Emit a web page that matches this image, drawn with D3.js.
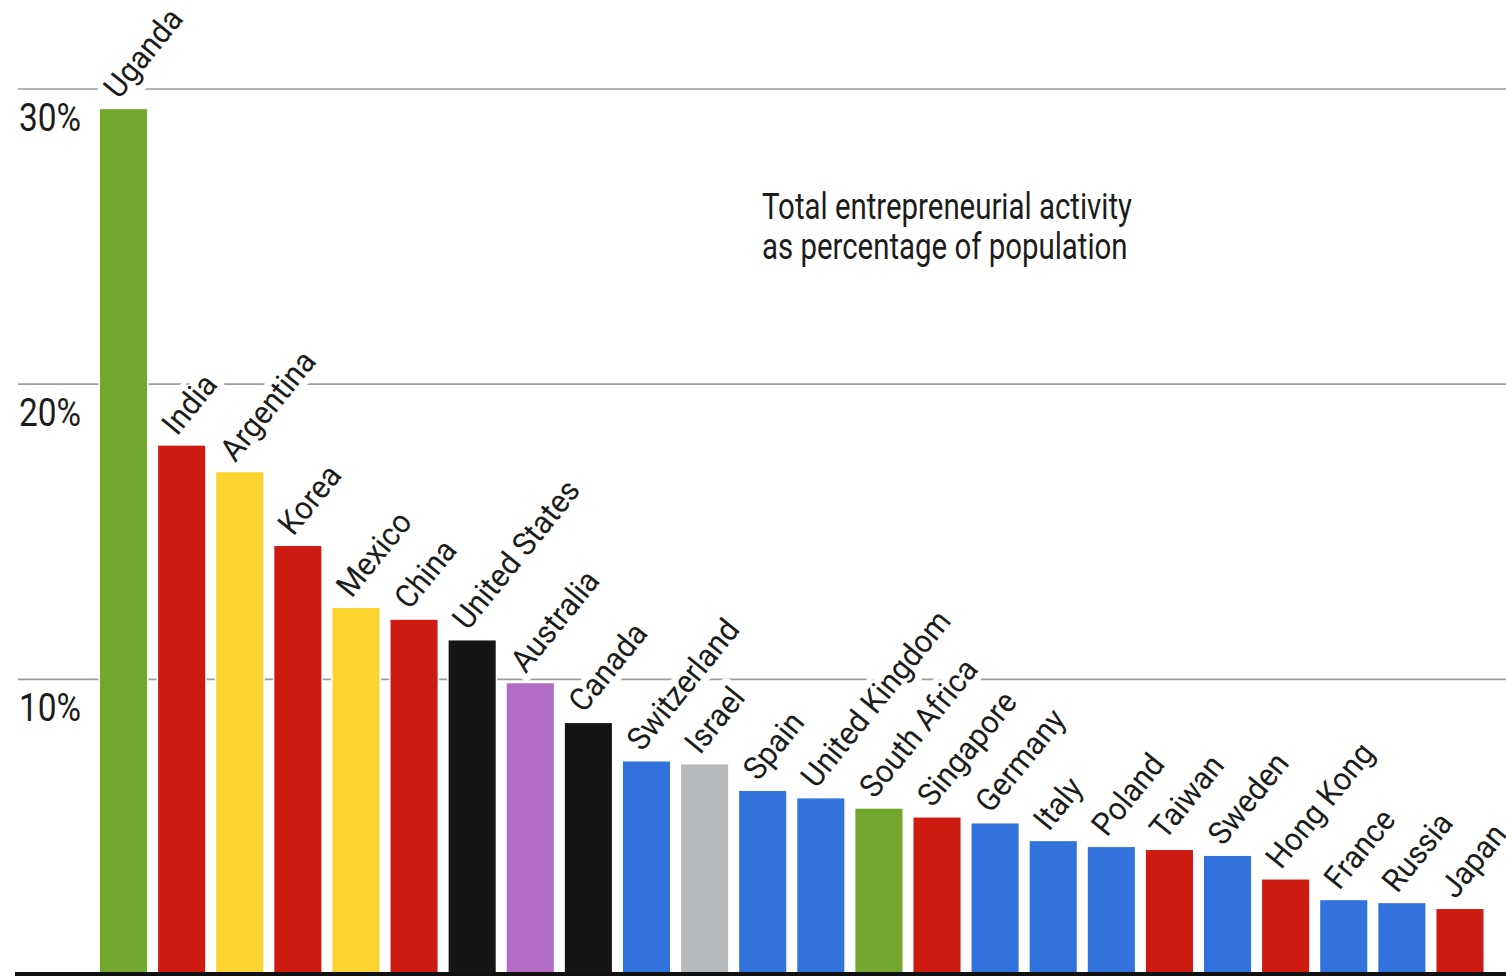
<!DOCTYPE html>
<html>
<head>
<meta charset="utf-8">
<script src="https://cdn.jsdelivr.net/npm/d3@7"></script>
<style>
  html, body { margin: 0; padding: 0; background: #fff; }
  svg { display: block; }
  text { font-family: "Roboto", "Liberation Sans", sans-serif; fill: #1c1c1c; }
</style>
</head>
<body>
<svg id="chart" width="1506" height="976"></svg>
<script>
const categories = ["Uganda","India","Argentina","Korea","Mexico","China","United States","Australia","Canada","Switzerland","Israel","Spain","United Kingdom","South Africa","Singapore","Germany","Italy","Poland","Taiwan","Sweden","Hong Kong","France","Russia","Japan"];
const values = [29.3,17.9,17.0,14.5,12.4,12.0,11.3,9.85,8.5,7.2,7.1,6.2,5.95,5.6,5.3,5.1,4.5,4.3,4.2,4.0,3.2,2.5,2.4,2.2];
const regions = ["Africa","Asia","Latin America","Asia","Latin America","Asia","North America","Oceania","North America","Europe","Middle East","Europe","Europe","Africa","Asia","Europe","Europe","Europe","Asia","Europe","Asia","Europe","Europe","Asia"];
const regionNames = ["Africa","Asia","Latin America","North America","Oceania","Europe","Middle East"];
const regionColors = ["#72a82e","#cd1b12","#fbd42f","#151515","#b36cc6","#3272dd","#b7babd"];
const yTicks = [10,20,30];
const tickLabels = ["10%","20%","30%"];
const titleLines = ["Total entrepreneurial activity","as percentage of population"];

const svg = d3.select("#chart");
const W = 1506, H = 976;

const x = d3.scaleBand().domain(categories).range([100, 1483.5]).paddingInner(0.19).paddingOuter(0);
const y = d3.scaleLinear().domain([0, 30]).range([974, 88.5]);
const color = d3.scaleOrdinal().domain(regionNames).range(regionColors);

const data = categories.map((c, i) => ({ name: c, value: values[i], region: regions[i] }));

// gridlines
const grid = svg.append("g")
  .attr("transform", "translate(18,0)")
  .call(d3.axisLeft(y).tickValues(yTicks).tickSize(-(W - 18)).tickFormat(""));
grid.select(".domain").remove();
grid.selectAll(".tick line").attr("stroke", "#9c9c9c").attr("stroke-width", 1.6);

// tick labels
svg.append("g").selectAll("text")
  .data(yTicks)
  .join("text")
  .attr("transform", d => `translate(19,${y(d) + 42}) scale(0.88,1)`)
  .attr("font-size", 38)
  .text((d, i) => tickLabels[i]);

// bars
svg.append("g").selectAll("rect")
  .data(data)
  .join("rect")
  .attr("x", d => x(d.name))
  .attr("y", d => y(d.value))
  .attr("width", x.bandwidth())
  .attr("height", d => y(0) - y(d.value))
  .attr("fill", d => color(d.region))
  .attr("stroke", "#fff")
  .attr("stroke-width", 3)
  .attr("paint-order", "stroke");

// country labels
svg.append("g").selectAll("text")
  .data(data)
  .join("text")
  .attr("transform", d => `translate(${x(d.name) + 19},${y(d.value) - 9}) rotate(-51) scale(0.95,1)`)
  .attr("font-size", 32)
  .attr("stroke", "#fff")
  .attr("stroke-width", 14)
  .attr("stroke-linejoin", "round")
  .attr("paint-order", "stroke")
  .text(d => d.name);

// baseline
svg.append("line")
  .attr("x1", 15).attr("x2", W)
  .attr("y1", y(0)).attr("y2", y(0))
  .attr("stroke", "#111").attr("stroke-width", 4);

// title
const title = svg.append("g").selectAll("text")
  .data(titleLines)
  .join("text")
  .attr("font-size", 36)
  .text(d => d);
const titleTargetWidth = 370;
const w0 = title.nodes()[0].getComputedTextLength();
const sx = titleTargetWidth / w0;
title.attr("transform", (d, i) => `translate(762,${219 + i * 40}) scale(${sx},1)`);
</script>
</body>
</html>
